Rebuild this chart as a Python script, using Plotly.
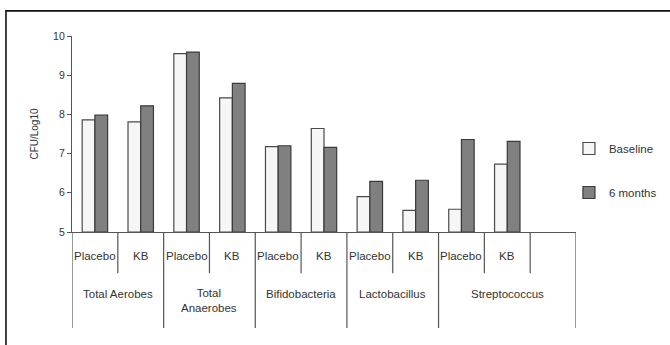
import plotly.graph_objects as go

# ---- data ----
groups = ["Total Aerobes", "Total<br>Anaerobes", "Bifidobacteria", "Lactobacillus", "Streptococcus"]
subgroups = ["Placebo", "KB"]
baseline = [7.86, 7.81, 9.55, 8.42, 7.18, 7.64, 5.90, 5.55, 5.58, 6.73]
six_months = [7.98, 8.22, 9.59, 8.79, 7.20, 7.16, 6.29, 6.32, 7.36, 7.31]
series_names = ["Baseline", "6 months"]
yticks = [5, 6, 7, 8, 9, 10]

n_bars = len(baseline)
slots = list(range(n_bars))
n_slots = n_bars + 1  # one empty slot at the end

FONT = "Liberation Sans, Arial, Helvetica, sans-serif"
TXT = "#333333"

fig = go.Figure()
fig.add_trace(go.Bar(
    x=slots, y=[v - 5 for v in baseline], base=5, name=series_names[0],
    marker=dict(color="#f6f6f6", line=dict(color="#4a4a4a", width=1.2)),
    legendgroup="a",
))
fig.add_trace(go.Bar(
    x=slots, y=[v - 5 for v in six_months], base=5, name=series_names[1],
    marker=dict(color="#808080", line=dict(color="#3a3a3a", width=1.2)),
    legendgroup="b",
))

shapes = []
annotations = []
line_style = dict(color="#555555", width=1.2)

# sub-dividers (between Placebo and KB, and after last KB)
for b in [0.5, 2.5, 4.5, 6.5, 8.5, 9.5]:
    shapes.append(dict(type="line", xref="x", yref="paper", x0=b, x1=b, y0=0, y1=-0.21, line=line_style))
# group dividers
for b in [-0.5, 1.5, 3.5, 5.5, 7.5, 10.5]:
    shapes.append(dict(type="line", xref="x", yref="paper", x0=b, x1=b, y0=0, y1=-0.49, line=line_style))

# outer frame
shapes.append(dict(type="rect", xref="paper", yref="paper", x0=-0.131, x1=1.3, y0=-0.7, y1=1.128,
                   line=dict(color="#111111", width=1.6)))

for i in slots:
    annotations.append(dict(x=i, y=-0.122, xref="x", yref="paper", text=subgroups[i % 2],
                            xanchor="center", yanchor="middle",
                            showarrow=False, font=dict(family=FONT, size=11.5, color=TXT)))

group_centers = [0.5, 2.5, 4.5, 6.5, 9.0]
for g, c in zip(groups, group_centers):
    ylab = -0.352 if "<br>" in g else -0.316
    annotations.append(dict(x=c, y=ylab, xref="x", yref="paper", text=g, showarrow=False,
                            xanchor="center", yanchor="middle",
                            font=dict(family=FONT, size=11.5, color=TXT)))

fig.update_layout(
    width=670, height=345,
    margin=dict(l=72, r=94, t=36, b=113, autoexpand=False),
    paper_bgcolor="white", plot_bgcolor="white",
    barmode="group", bargap=0.445, bargroupgap=0,
    showlegend=True,
    legend=dict(x=0.986, y=0.50, xanchor="left", yanchor="top",
                traceorder="grouped", tracegroupgap=25,
                font=dict(family=FONT, size=11.5, color=TXT), bgcolor="rgba(0,0,0,0)"),
    xaxis=dict(range=[-0.5, n_slots - 0.5], showline=True, linecolor="#555555", linewidth=1.2,
               showticklabels=False, ticks="", showgrid=False, zeroline=False, fixedrange=True),
    yaxis=dict(range=[5, 10], tickvals=yticks, showline=True, linecolor="#555555", linewidth=1.2,
               ticks="outside", ticklen=4, tickcolor="#555555", showgrid=False, zeroline=False,
               tickfont=dict(family=FONT, size=10.5, color=TXT),
               title=dict(text="CFU/Log10", font=dict(family=FONT, size=10, color=TXT), standoff=12)),
    shapes=shapes, annotations=annotations,
)

fig.write_html("out.html", config={"displayModeBar": False},
               post_script="document.body.style.margin='0';")
